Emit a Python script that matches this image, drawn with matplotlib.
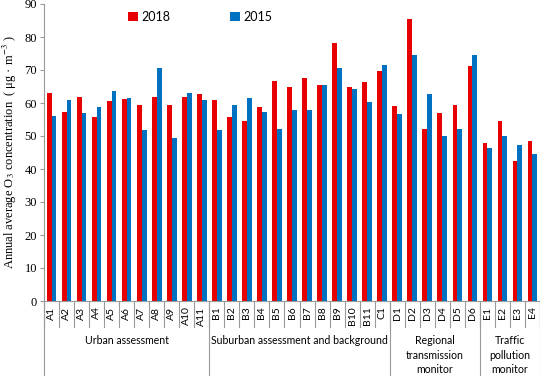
import matplotlib
matplotlib.use('Agg')
import matplotlib.pyplot as plt
import matplotlib.transforms as mtransforms
import numpy as np

# Datos
stations = ['A1', 'A2', 'A3', 'A4', 'A5', 'A6', 'A7', 'A8', 'A9', 'A10', 'A11',
            'B1', 'B2', 'B3', 'B4', 'B5', 'B6', 'B7', 'B8', 'B9', 'B10', 'B11',
            'C1', 'D1', 'D2', 'D3', 'D4', 'D5', 'D6', 'E1', 'E2', 'E3', 'E4']
o3_2018 = [62.9, 57.3, 61.7, 55.9, 60.5, 61.2, 59.3, 61.9, 59.3, 61.7, 62.7,
           60.8, 55.7, 54.6, 58.9, 66.7, 64.9, 67.6, 65.5, 78.1, 64.9, 66.4,
           69.8, 59.1, 85.6, 52.2, 57.0, 59.5, 71.3, 47.8, 54.6, 42.3, 48.6]
o3_2015 = [56.2, 60.8, 57.0, 58.9, 63.5, 61.4, 51.8, 70.7, 49.3, 62.9, 60.8,
           51.8, 59.5, 61.5, 57.3, 52.2, 57.8, 57.8, 65.5, 70.7, 64.1, 60.3,
           71.4, 56.6, 74.6, 62.8, 49.9, 52.2, 74.6, 46.3, 49.9, 47.4, 44.6]
groups = ['Urban assessment', 'Suburban assessment and background',
          'Regional\ntransmission\nmonitor', 'Traffic\npollution\nmonitor']
group_sizes = [11, 12, 6, 4]

plt.rcParams['mathtext.fontset'] = 'stix'
red = '#E60000'
blue = '#0070C0'
gray = '#9A9A9A'

fig = plt.figure(figsize=(5.4, 3.76), dpi=100)
ax = fig.add_axes([44 / 540, 75 / 376, 496 / 540, 297 / 376])

x = np.arange(len(stations))
w = 0.32
b1 = ax.bar(x - w / 2, o3_2018, w, color=red, label='2018')
b2 = ax.bar(x + w / 2, o3_2015, w, color=blue, label='2015')

ax.set_xlim(-0.5, len(stations) - 0.5)
ax.set_ylim(0, 90)
ax.set_yticks(range(0, 91, 10))
ax.tick_params(axis='y', direction='out', length=3, color=gray, pad=2,
               labelsize=9)
for t in ax.get_yticklabels():
    t.set_fontfamily('Liberation Serif')
ax.set_xticks(x)
ax.set_xticklabels(stations, rotation=90, fontsize=7.5, family='Lato')
ax.tick_params(axis='x', length=0, pad=4)

for s in ['top', 'right']:
    ax.spines[s].set_visible(False)
for s in ['left', 'bottom']:
    ax.spines[s].set_color(gray)

ax.set_ylabel('Annual average O$_3$ concentration  ( μg · m$^{-3}$ )',
              family='Liberation Serif', fontsize=9, labelpad=4)

# Separadores de categorias y grupos
trans = mtransforms.blended_transform_factory(ax.transData, fig.transFigure)
y0 = 1 - 301 / 376
y_short = 1 - 327 / 376
for i in range(len(stations) + 1):
    ax.plot([i - 0.5, i - 0.5], [y0, y_short], color=gray, lw=0.8,
            transform=trans, clip_on=False)
edges = np.concatenate([[0], np.cumsum(group_sizes)]) - 0.5
for e in edges:
    ax.plot([e, e], [y0, 0], color=gray, lw=0.8, transform=trans, clip_on=False)
for g, a, b in zip(groups, edges[:-1], edges[1:]):
    ax.text((a + b) / 2, 1 - 335 / 376, g, transform=trans, ha='center',
            va='top', fontsize=7.6, family='Lato', linespacing=1.4)

ax.legend(handles=[b1, b2], ncol=2, frameon=False,
          prop={'family': 'Lato', 'size': 9},
          handlelength=0.75, handleheight=0.75, handletextpad=0.3,
          columnspacing=4.8, loc='upper left',
          bbox_to_anchor=(117 / 540, 1 - 0 / 376), bbox_transform=fig.transFigure)

plt.savefig('out.png', dpi=100)
plt.close()
